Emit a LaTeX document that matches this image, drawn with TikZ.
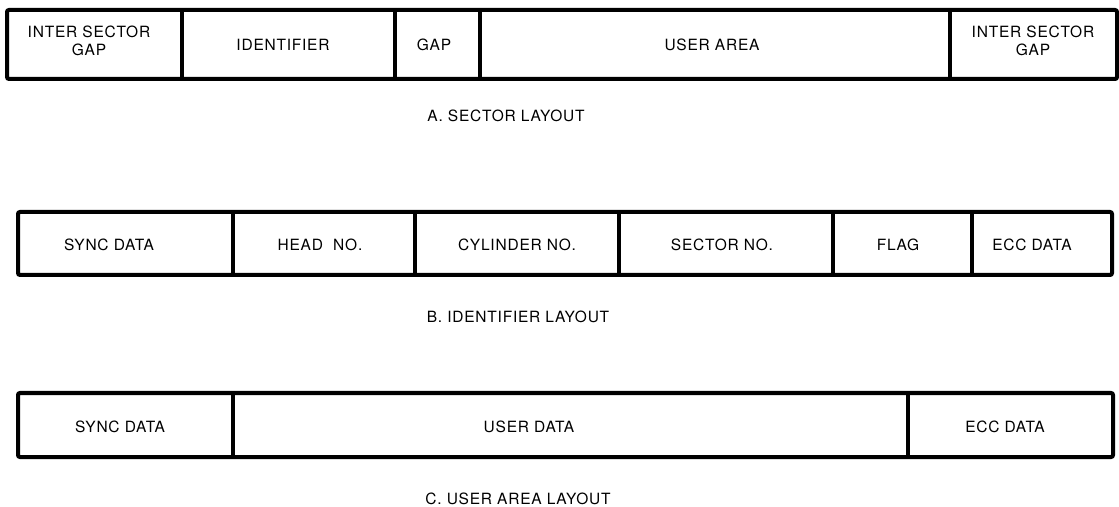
\documentclass[tikz,border=0pt]{standalone}
\usepackage{fontspec}
\setmainfont{TeX Gyre Heros}[LetterSpace=5]
\begin{document}
\begin{tikzpicture}[x=1bp,y=-1bp,
  frame/.style={line width=4bp, rounded corners=2bp, draw=black},
  divider/.style={line width=4bp, draw=black},
  lbl/.style={inner sep=0pt, font=\fontsize{15.5bp}{18bp}\selectfont, align=center, text=black},
  caption/.style={lbl}]
\useasboundingbox (0,0) rectangle (1119,507);
% ---- Row A: sector layout
\draw[frame] (7,10) rectangle (1117,79);
\coordinate (a1t) at (182,10); \coordinate (a1b) at (182,79);
\coordinate (a2t) at (395,10); \coordinate (a2b) at (395,79);
\coordinate (a3t) at (480,10); \coordinate (a3b) at (480,79);
\coordinate (a4t) at (950,10); \coordinate (a4b) at (950,79);
\draw[divider] (a1t) -- (a1b);
\draw[divider] (a2t) -- (a2b);
\draw[divider] (a3t) -- (a3b);
\draw[divider] (a4t) -- (a4b);
\node[lbl] (aisg1) at (89,41) {INTER SECTOR\\GAP};
\node[lbl] (aid) at (283,45) {IDENTIFIER};
\node[lbl] (agap) at (434,45) {GAP};
\node[lbl] (auser) at (712,45) {USER AREA};
\node[lbl] (aisg2) at (1033,41) {INTER SECTOR\\GAP};
\node[caption] (capA) at (506,116) {A. SECTOR LAYOUT};
% ---- Row B: identifier layout
\draw[frame] (18,212) rectangle (1112,275);
\coordinate (b1t) at (233,212); \coordinate (b1b) at (233,275);
\coordinate (b2t) at (415,212); \coordinate (b2b) at (415,275);
\coordinate (b3t) at (619,212); \coordinate (b3b) at (619,275);
\coordinate (b4t) at (833,212); \coordinate (b4b) at (833,275);
\coordinate (b5t) at (972,212); \coordinate (b5b) at (972,275);
\draw[divider] (b1t) -- (b1b);
\draw[divider] (b2t) -- (b2b);
\draw[divider] (b3t) -- (b3b);
\draw[divider] (b4t) -- (b4b);
\draw[divider] (b5t) -- (b5b);
\node[lbl] (bsync) at (109,245) {SYNC DATA};
\node[lbl] (bhead) at (320,245) {HEAD\ \ NO.};
\node[lbl] (bcyl) at (517,245) {CYLINDER NO.};
\node[lbl] (bsec) at (722,245) {SECTOR NO.};
\node[lbl] (bflag) at (898,245) {FLAG};
\node[lbl] (becc) at (1032,245) {ECC DATA};
\node[caption] (capB) at (518,317) {B. IDENTIFIER LAYOUT};
% ---- Row C: user area layout
\draw[frame] (18,393) rectangle (1113,457);
\coordinate (c1t) at (233,393); \coordinate (c1b) at (233,457);
\coordinate (c2t) at (908,393); \coordinate (c2b) at (908,457);
\draw[divider] (c1t) -- (c1b);
\draw[divider] (c2t) -- (c2b);
\node[lbl] (csync) at (120,427) {SYNC DATA};
\node[lbl] (cuser) at (529,427) {USER DATA};
\node[lbl] (cecc) at (1005,427) {ECC DATA};
\node[caption] (capC) at (518,499) {C. USER AREA LAYOUT};
\end{tikzpicture}
\end{document}
